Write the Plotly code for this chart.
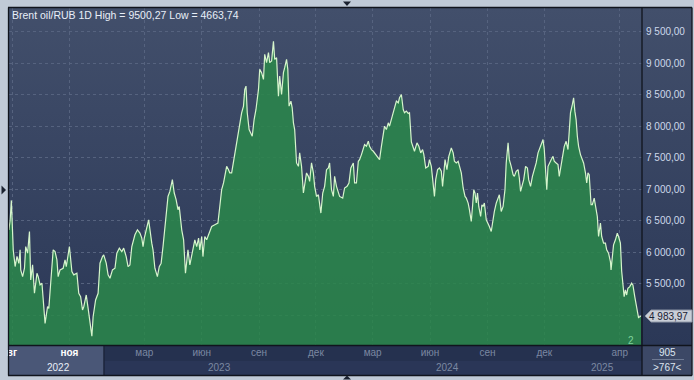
import base64
import pandas as pd
import plotly.graph_objects as go

# ---------------- data ----------------
TITLE = "Brent oil/RUB 1D High = 9500,27 Low = 4663,74"
START_DATE = "2022-08-01"
LAST_PRICE = 4983.97
BAR_COUNT = "905"
VISIBLE_COUNT = ">767<"

day_offsets = [
    -5, -3, -1, 2, 5, 8, 11, 13, 14, 17, 20, 22, 25, 28, 30, 33, 36, 40, 42, 45,
    48, 50, 53, 57, 59, 62, 66, 69, 72, 74, 77, 82, 85, 87, 92, 96, 99, 104, 107, 110,
    113, 115, 119, 122, 125, 128, 130, 134, 138, 141, 145, 147, 151, 154, 157, 161, 165, 168, 172, 176,
    179, 183, 186, 189, 192, 197, 201, 205, 208, 210, 212, 215, 219, 224, 226, 229, 233, 236, 239, 242,
    245, 248, 250, 253, 257, 260, 263, 266, 268, 272, 275, 278, 282, 285, 290, 293, 296, 299, 301, 304,
    306, 309, 312, 320, 325, 330, 333, 336, 339, 341, 344, 347, 349, 352, 355, 357, 360, 363, 365, 368,
    371, 373, 375, 377, 380, 383, 385, 388, 391, 395, 397, 400, 403, 405, 408, 411, 413, 416, 419, 421,
    424, 427, 429, 432, 435, 437, 440, 442, 444, 447, 449, 451, 453, 456, 459, 461, 464, 467, 469, 472,
    475, 477, 480, 483, 485, 488, 491, 495, 498, 501, 504, 507, 509, 512, 515, 517, 520, 523, 525, 530,
    533, 537, 540, 543, 547, 549, 552, 555, 557, 560, 563, 565, 568, 571, 573, 576, 579, 581, 584, 587,
    589, 592, 595, 597, 600, 603, 605, 608, 611, 613, 616, 619, 621, 624, 627, 629, 632, 635, 637, 640,
    643, 645, 649, 652, 655, 658, 660, 663, 667, 669, 672, 675, 677, 679, 682, 685, 688, 690, 692, 694,
    697, 700, 704, 707, 709, 712, 715, 717, 720, 723, 726, 728, 731, 733, 736, 738, 740, 742, 744, 746,
    748, 751, 753, 755, 757, 760, 763, 765, 768, 771, 773, 776, 779, 781, 784, 787, 790, 792, 795, 797,
    800, 803, 805, 808, 811, 813, 815, 818, 820, 823, 826, 828, 831, 834, 837, 840, 843, 845, 848, 851,
    853, 855, 857, 859, 861, 864, 867, 869, 872, 875, 877, 880, 883, 885, 888, 891, 893, 895, 898, 900,
    902, 904, 906, 908, 911, 913, 916, 919, 921, 923, 925, 928, 930, 933, 935, 938, 940, 943, 945, 948,
    951, 953, 956, 959, 960, 962, 964, 967, 970, 972, 975, 977, 979, 981, 983, 985, 987, 990, 993, 995,
    998, 1001, 1004, 1008,
]

prices = [
    6350, 6500, 6820, 6035, 5770, 5930, 5820, 6035, 5716, 5610, 5743, 6087, 5982, 6326, 5557, 5796, 5345, 5664, 5610, 5478,
    5505, 5291, 4868, 5132, 5106, 5505, 6035, 6008, 5876, 5610, 5716, 5743, 5876, 5769, 6087, 5689, 5637, 5664, 5345, 5291,
    5080, 5132, 5318, 5106, 4920, 4664, 4973, 5239, 5345, 5823, 5928, 5955, 5823, 5637, 5584, 5716, 5743, 5982, 6062, 6008,
    6062, 5928, 5769, 5796, 6087, 6274, 6353, 6300, 6221, 6087, 6221, 6353, 6512, 6141, 6035, 5743, 5610, 5769, 5823, 6087,
    6406, 6724, 6883, 6963, 7149, 6937, 6831, 6672, 6724, 6353, 6194, 5664, 6035, 5796, 6062, 6194, 6087, 6221, 6035, 6247,
    5928, 6247, 6194, 6406, 6433, 6460, 6724, 6990, 7097, 7202, 7361, 7308, 7256, 7256, 7441, 7520, 7679, 7892, 8052, 8211,
    8317, 8582, 8635, 8211, 7945, 7892, 7839, 8104, 8264, 8582, 8900, 8848, 8741, 9139, 9007, 9166, 9007, 9033, 9345, 9059,
    9086, 8476, 8794, 8502, 8848, 8927, 9059, 8900, 8317, 8396, 8290, 8052, 7945, 7415, 7361, 7574, 7361, 6937, 7097, 7256,
    7202, 7122, 7415, 7256, 7043, 6883, 6910, 6619, 6937, 7043, 7308, 7335, 7415, 6990, 6883, 7202, 7043, 6937, 6883, 6857,
    7017, 7043, 7097, 7335, 7415, 7097, 7097, 7441, 7467, 7547, 7627, 7706, 7679, 7759, 7679, 7627, 7600, 7574, 7520, 7494,
    7467, 7679, 7892, 7998, 7945, 8052, 7998, 8104, 8184, 8290, 8396, 8370, 8450, 8502, 8260, 8211, 8237, 8200, 8211, 7750,
    7670, 7600, 7733, 7679, 7574, 7627, 7547, 7335, 7361, 7467, 7361, 7097, 6883, 7149, 7308, 7335, 7282, 7043, 7256, 7467,
    7308, 7520, 7653, 7574, 7441, 7415, 7441, 7361, 7256, 7017, 6883, 6857, 6778, 6672, 6486, 6724, 6990, 6937, 6778, 6937,
    6724, 6565, 6751, 6724, 6778, 6512, 6459, 6406, 6326, 6565, 6645, 6778, 6883, 6910, 6645, 6724, 6990, 7415, 7733, 7467,
    7361, 7229, 7202, 7282, 7308, 7176, 6963, 7097, 7149, 7361, 7335, 7149, 7043, 7202, 7308, 7415, 7574, 7627, 7733, 7786,
    7627, 7308, 6990, 7361, 7415, 7467, 7520, 7441, 7415, 7388, 7202, 7361, 7520, 7679, 7759, 7627, 7919, 8211, 8343, 8450,
    8237, 8104, 7839, 7679, 7547, 7494, 7415, 7256, 7097, 7256, 7229, 6751, 6751, 6857, 6724, 6565, 6247, 6459, 6247, 6141,
    6141, 6035, 5982, 5849, 5716, 5982, 6114, 6194, 6300, 6247, 6141, 5700, 5500, 5291, 5398, 5318, 5425, 5451, 5505, 5478,
    5291, 5106, 4960, 4984,
]

y_tick_values = [5000, 5500, 6000, 6500, 7000, 7500, 8000, 8500, 9000, 9500]
month_tick_dates = ["2022-08-01", "2022-11-01", "2023-03-01", "2023-06-01", "2023-09-01",
                    "2023-12-01", "2024-03-01", "2024-06-01", "2024-09-01", "2024-12-01", "2025-04-01"]
month_tick_labels = ["вг", "ноя", "мар", "июн", "сен", "дек", "мар", "июн", "сен", "дек", "апр"]
year_labels = ["2022", "2023", "2024", "2025"]
year_label_dates = ["2022-10-14", "2023-06-30", "2024-06-29", "2025-03-05"]
x_range = ["2022-07-27 04:48", "2025-05-06 14:24"]
y_range = [4524, 9875]

# ---------------- layout helpers (pixels -> paper) ----------------
W, H = 694, 380
L, R, T, B = 9, 642, 8, 345


def X(p):
    return (p - L) / (R - L)


def Y(p):
    return (B - p) / (B - T)


dates = pd.Timestamp(START_DATE) + pd.to_timedelta(day_offsets, unit="D")

GRID = "#56637f"
DIM_TXT = "#7b88a2"
BRIGHT_TXT = "#e8eef8"
FONT = "Liberation Sans, Arial, sans-serif"

fig = go.Figure()
fig.add_trace(go.Scatter(
    x=dates, y=prices, mode="lines",
    line=dict(color="#d6f5cc", width=1.2),
    fill="tozeroy", fillcolor="rgba(42,134,75,0.87)",
    hoverinfo="skip", showlegend=False,
))


def fmt(v):
    return f"{v:,.2f}".replace(",", " ").replace(".", ",")


y_tick_text = ["" if abs(v - LAST_PRICE) < 250 else fmt(v) for v in y_tick_values]

x_tick_text = []
for i, lab in enumerate(month_tick_labels):
    if month_tick_dates[i] < "2022-12-31":
        x_tick_text.append(f"<span style='color:#ffffff'><b>{lab}</b></span>")
    else:
        x_tick_text.append(lab)

svg = ('<svg xmlns="http://www.w3.org/2000/svg" width="10" height="100" viewBox="0 0 10 100" '
       'preserveAspectRatio="none"><defs><linearGradient id="g" x1="0" y1="0" x2="0" y2="1">'
       '<stop offset="0" stop-color="#424f6b"/><stop offset="1" stop-color="#2b3857"/>'
       '</linearGradient></defs><rect width="10" height="100" fill="url(#g)"/></svg>')
src = "data:image/svg+xml;base64," + base64.b64encode(svg.encode()).decode()

shapes = []
shapes.append(dict(type="rect", xref="paper", yref="paper", x0=X(9), x1=X(642), y0=Y(375), y1=Y(345),
                   fillcolor="#25314f", line=dict(width=0), layer="below"))
shapes.append(dict(type="rect", xref="paper", yref="paper", x0=X(104), x1=X(642), y0=Y(375), y1=Y(361),
                   fillcolor="#2a3657", line=dict(width=0), layer="below"))
shapes.append(dict(type="rect", xref="paper", yref="paper", x0=X(9), x1=X(104), y0=Y(375), y1=Y(345),
                   fillcolor="#4a5777", line=dict(width=0), layer="below"))
shapes.append(dict(type="line", xref="paper", yref="paper", x0=X(104), x1=X(104), y0=Y(375), y1=Y(345),
                   line=dict(color="#1c253b", width=1.5), layer="above"))
shapes.append(dict(type="rect", xref="paper", yref="paper", x0=X(642), x1=X(692), y0=Y(375), y1=Y(345),
                   fillcolor="#3c4866", line=dict(width=0), layer="below"))
shapes.append(dict(type="line", xref="paper", yref="paper", x0=X(652), x1=X(684), y0=Y(359.5), y1=Y(359.5),
                   line=dict(color="#6e7a94", width=1), layer="above"))
for (x0, y0, x1, y1) in [(8, 7.5, 692, 7.5), (8.5, 7.5, 8.5, 375.5), (8, 345.5, 692, 345.5),
                         (642, 7.5, 642, 375.5), (8, 375.5, 692, 375.5), (692, 7.5, 692, 375.5)]:
    shapes.append(dict(type="line", xref="paper", yref="paper", x0=X(x0), x1=X(x1), y0=Y(y0), y1=Y(y1),
                       line=dict(color="#10141d", width=1.3), layer="above"))


def tri(pts):
    return "M " + " L ".join(f"{X(a)},{Y(b)}" for a, b in pts) + " Z"


for pts in [[(343, 1.5), (351, 1.5), (347, 6)], [(343, 379.5), (351, 379.5), (347, 375.5)],
            [(1.5, 185.5), (1.5, 194.5), (6, 190)]]:
    shapes.append(dict(type="path", xref="paper", yref="paper", path=tri(pts),
                       fillcolor="#1b2230", line=dict(width=0), layer="above"))
shapes.append(dict(type="path", xref="paper", yref="y", xsizemode="pixel", ysizemode="pixel",
                   xanchor=1, yanchor=LAST_PRICE,
                   path="M 3 0 L 9 6 L 50 6 L 50 -6 L 9 -6 Z",
                   fillcolor="#c9ced7", line=dict(color="#8e96a6", width=1), layer="above"))

annotations = [
    dict(text=TITLE, xref="paper", yref="paper", x=X(10), y=Y(14.5), xanchor="left", yanchor="middle",
         showarrow=False, font=dict(family=FONT, size=10.5, color=BRIGHT_TXT)),
    dict(text=fmt(LAST_PRICE), xref="paper", yref="y", x=X(647), y=LAST_PRICE, xanchor="left",
         yanchor="middle", showarrow=False, font=dict(family=FONT, size=10, color="#1a2134")),
    dict(text="2", xref="paper", yref="paper", x=X(630.5), y=Y(340), xanchor="center", yanchor="middle",
         showarrow=False, font=dict(family=FONT, size=10, color="#7fd39c")),
    dict(text=BAR_COUNT, xref="paper", yref="paper", x=X(667), y=Y(352.5), xanchor="center",
         yanchor="middle", showarrow=False, font=dict(family=FONT, size=10, color="#dde5f0")),
    dict(text=VISIBLE_COUNT, xref="paper", yref="paper", x=X(667), y=Y(367), xanchor="center",
         yanchor="middle", showarrow=False, font=dict(family=FONT, size=10, color="#dde5f0")),
]
for lab, d in zip(year_labels, year_label_dates):
    annotations.append(dict(text=lab, xref="x", yref="paper", x=d, y=Y(367.5), xanchor="center",
                            yanchor="middle", showarrow=False,
                            font=dict(family=FONT, size=10, color=BRIGHT_TXT if lab == "2022" else DIM_TXT)))

fig.update_layout(
    width=W, height=H,
    margin=dict(l=L, r=W - R, t=T, b=H - B),
    paper_bgcolor="#c0cad7",
    plot_bgcolor="rgba(0,0,0,0)",
    font=dict(family=FONT, size=10),
    showlegend=False,
    images=[dict(source=src, xref="paper", yref="paper", x=0, y=1, sizex=X(692), sizey=1,
                 xanchor="left", yanchor="top", sizing="stretch", layer="below")],
    shapes=shapes,
    annotations=annotations,
    xaxis=dict(type="date", range=x_range, tickvals=month_tick_dates, ticktext=x_tick_text,
               showgrid=True, gridcolor=GRID, griddash="3px,3px", gridwidth=1,
               ticks="", showline=False, zeroline=False, tickangle=0,
               tickfont=dict(family=FONT, size=10, color=DIM_TXT)),
    yaxis=dict(side="right", range=y_range, tickvals=y_tick_values, ticktext=y_tick_text,
               showgrid=True, gridcolor=GRID, griddash="3px,3px", gridwidth=1,
               ticks="", showline=False, zeroline=False, ticklabelstandoff=3,
               tickfont=dict(family=FONT, size=10, color="#cdd8ea")),
)

fig.write_html("out.html", config={"displayModeBar": False, "staticPlot": True},
               post_script="document.body.style.margin='0';document.body.style.overflow='hidden';")
